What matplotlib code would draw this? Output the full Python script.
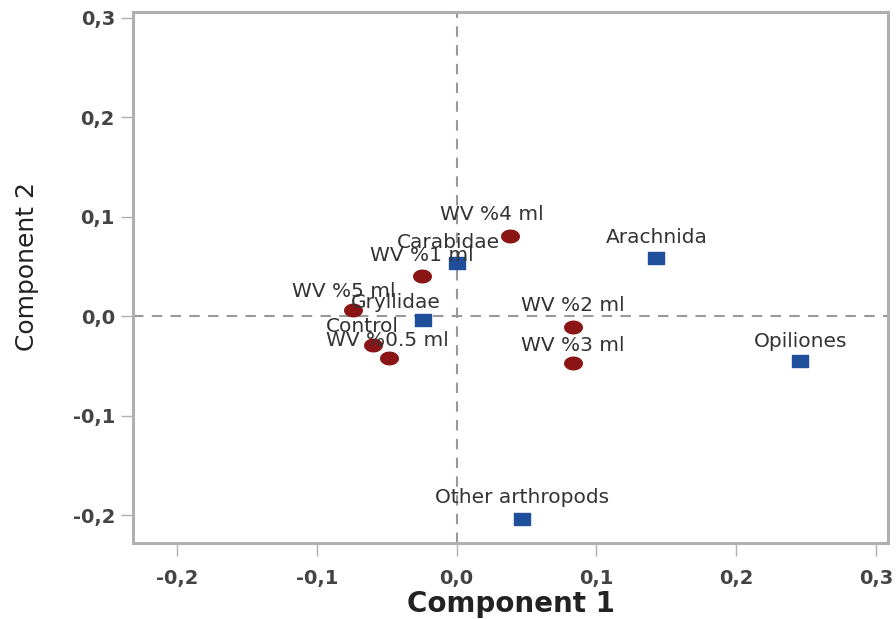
import numpy as np
import matplotlib
matplotlib.use('Agg')
import matplotlib.pyplot as plt
from matplotlib.path import Path

# pontos dos tratamentos (circulos vermelhos)
trat_nomes = ['WV %4 ml', 'WV %1 ml', 'WV %5 ml', 'Control', 'WV %0.5 ml', 'WV %2 ml', 'WV %3 ml']
trat_x = [0.038, -0.025, -0.074, -0.060, -0.048, 0.083, 0.083]
trat_y = [0.081, 0.041, 0.006, -0.029, -0.042, -0.011, -0.047]

# pontos dos grupos (quadrados azuis)
grupo_nomes = ['Carabidae', 'Gryllidae', 'Arachnida', 'Opiliones', 'Other arthropods']
grupo_x = [0.000, -0.024, 0.143, 0.246, 0.047]
grupo_y = [0.054, -0.004, 0.059, -0.045, -0.204]

ticks = [-0.2, -0.1, 0.0, 0.1, 0.2, 0.3]
tick_labels = ['-0,2', '-0,1', '0,0', '0,1', '0,2', '0,3']

# deslocamento dos rotulos em pixels
desloc = {
    'WV %4 ml': (-18, 21), 'Carabidae': (-8, 20), 'WV %1 ml': (0, 20),
    'WV %5 ml': (-9, 19), 'Gryllidae': (-27, 18), 'Control': (-10, 19),
    'WV %0.5 ml': (-2, 18), 'WV %2 ml': (0, 22), 'WV %3 ml': (0, 18),
    'Arachnida': (0, 20), 'Opiliones': (0, 20), 'Other arthropods': (0, 22),
}

# marcadores achatados (elipse e retangulo)
t = np.linspace(0, 2 * np.pi, 40)
elipse = Path(np.column_stack([1.4 * np.cos(t), np.sin(t)]), closed=True)
retangulo = Path([(-1.35, -1), (1.35, -1), (1.35, 1), (-1.35, 1), (-1.35, -1)], closed=True)

fig = plt.figure(figsize=(8.96, 6.19), dpi=100)
ax = fig.add_axes([0.1484, 0.1228, 0.8426, 0.8578])

ax.axhline(0, color='#999999', linestyle=(0, (5, 4)), linewidth=1.5, zorder=1)
ax.axvline(0, color='#999999', linestyle=(0, (5, 4)), linewidth=1.5, zorder=1)

ax.scatter(trat_x, trat_y, marker=elipse, s=160, color='#8b1414', zorder=3)
ax.scatter(grupo_x, grupo_y, marker=retangulo, s=130, color='#1f4f9a', zorder=3)

for nome, x, y in zip(trat_nomes + grupo_nomes, trat_x + grupo_x, trat_y + grupo_y):
    dx, dy = desloc[nome]
    ax.annotate(nome, (x, y), xytext=(dx, dy), textcoords='offset pixels',
                ha='center', va='center', fontsize=14.5, color='#333333', zorder=4)

ax.set_xlim(-0.2315, 0.3086)
ax.set_ylim(-0.228, 0.306)
ax.set_xticks(ticks)
ax.set_xticklabels(tick_labels)
ax.set_yticks(ticks)
ax.set_yticklabels(tick_labels)

for s in ax.spines.values():
    s.set_color('#b0b0b0')
    s.set_linewidth(2.2)
ax.tick_params(direction='out', length=9, width=1.0, color='#b0b0b0',
               labelsize=14, labelcolor='#444444')
ax.tick_params(axis='x', pad=10)
ax.tick_params(axis='y', pad=4)
for lab in ax.get_xticklabels() + ax.get_yticklabels():
    lab.set_fontweight('bold')

ax.set_xlabel('Component 1', fontsize=20, fontweight='bold', color='#222222')
ax.xaxis.set_label_coords(0.5, -0.088)
ax.set_ylabel('Component 2', fontsize=18, color='#222222',
              family=['Liberation Sans Narrow', 'DejaVu Sans'])
ax.yaxis.set_label_coords(-0.125, 0.52)

fig.savefig('out.png', dpi=100)
